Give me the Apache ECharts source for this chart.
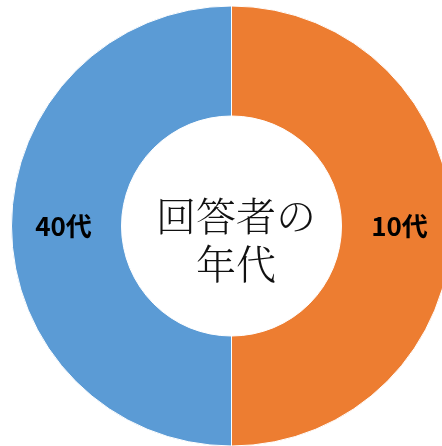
<!DOCTYPE html>
<html>
<head>
<meta charset="utf-8">
<script src="https://cdn.jsdelivr.net/npm/echarts@6/dist/echarts.min.js"></script>
<style>html,body{margin:0;padding:0;background:#fff;}#c{width:442px;height:446px;}</style>
</head>
<body>
<div id="c"></div>
<script>
const categories = ['10代', '40代'];
const values = [50, 50];
const colors = ['#ED7D31', '#5B9BD5'];
const centerTitle = '回答者の\n年代';

const chart = echarts.init(document.getElementById('c'), null, {renderer: 'canvas'});
chart.setOption({
  animation: false,
  backgroundColor: '#ffffff',
  series: [{
    type: 'pie',
    center: [231.5, 226],
    radius: [110, 220],
    startAngle: 90,
    clockwise: true,
    silent: true,
    itemStyle: { borderColor: '#ffffff', borderWidth: 1 },
    label: {
      show: true,
      position: 'inside',
      formatter: '{b}',
      fontFamily: '"Noto Sans CJK JP", sans-serif',
      fontWeight: 'bold',
      fontSize: 26,
      color: '#000'
    },
    labelLine: { show: false },
    data: categories.map((c, i) => ({ name: c, value: values[i], itemStyle: { color: colors[i] } }))
  }],
  graphic: [{
    type: 'text',
    z: 100,
    x: 236,
    y: 240,
    style: {
      text: centerTitle,
      align: 'center',
      verticalAlign: 'middle',
      font: '300 40px "Noto Serif CJK JP", "Noto Sans CJK JP", serif',
      lineHeight: 48,
      fill: '#111'
    }
  }]
});
</script>
</body>
</html>
